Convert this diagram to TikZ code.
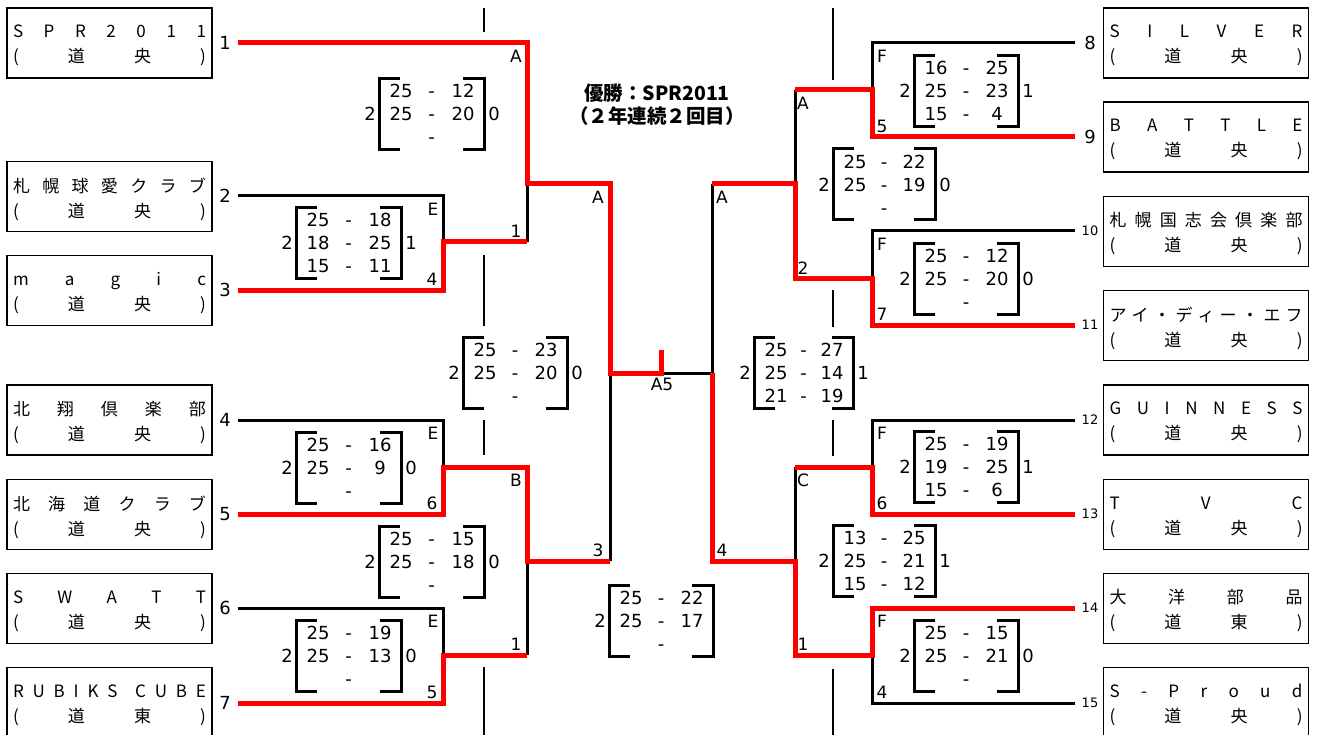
\documentclass[tikz,border=0pt]{standalone}
\usepackage{fontspec}
\setmainfont{DejaVu Sans}
\newfontfamily\jp{Noto Sans CJK JP}
\def\sfil{\hfill}
\newcommand\tname[2]{\vbox{\baselineskip=25pt\lineskiplimit=-100pt\kern5pt\hbox to 193pt{#1}\hbox to 193pt{#2}}}
\newcommand\scorebox[6]{%
 \begin{scope}[shift={#2}, name prefix=#1-]
  \def\shw{#3}
  \draw[brk] (-\shw+21,-35.5) -- (-\shw,-35.5) -- (-\shw,35.5) -- (-\shw+21,35.5);
  \draw[brk] (\shw-21,-35.5) -- (\shw,-35.5) -- (\shw,35.5) -- (\shw-21,35.5);
  \node[sc] (lc) at (-\shw-9,0) {#4};
  \node[sc] (rc) at (\shw+10,0) {#5};
  #6
 \end{scope}}
\newcommand\srow[4]{%
  \node[sc] (#1a) at (-\shw+22,#2) {#3};
  \node[sc] (#1d) at (0,#2) {-};
  \node[sc] (#1b) at (\shw-21,#2) {#4};}
\tikzset{
 team/.style={draw, line width=1.3pt, minimum width=205pt, minimum height=70pt, inner sep=0pt, font=\jp\fontsize{17}{17}\selectfont},
 win/.style={draw=red, line width=5pt, line join=miter},
 lose/.style={draw=black, line width=3pt},
 brk/.style={draw=black, line width=3pt, line join=miter},
 sepl/.style={draw=black, line width=1.3pt},
 sc/.style={inner sep=0pt, text height=13.1pt, text depth=0pt, font=\fontsize{18}{20}\selectfont},
 tag/.style={inner sep=0pt, text height=12.4pt, text depth=0pt, font=\fontsize{17}{18}\selectfont},
 num/.style={inner sep=0pt, text height=13.1pt, text depth=0pt, font=\fontsize{18}{20}\selectfont},
 snum/.style={inner sep=0pt, text height=9.5pt, text depth=0pt, font=\fontsize{13}{14}\selectfont},
 title/.style={inner sep=0pt, font=\jp\bfseries\fontsize{19.5}{22}\selectfont},
}
\begin{document}
\begin{tikzpicture}[x=1pt,y=-1pt]
\useasboundingbox (0,0) rectangle (1319,735);
% ---------- team boxes ----------
\node[team] (t1) at (109.5,43) {\tname{S\sfil P\sfil R\sfil 2\sfil 0\sfil 1\sfil 1}{(\sfil 道\sfil 央\sfil )}};
\node[team] (t2) at (109.5,196.5) {\tname{札\sfil 幌\sfil 球\sfil 愛\sfil ク\sfil ラ\sfil ブ}{(\sfil 道\sfil 央\sfil )}};
\node[team] (t3) at (109.5,290.5) {\tname{m\sfil a\sfil g\sfil i\sfil c}{(\sfil 道\sfil 央\sfil )}};
\node[team] (t4) at (109.5,420) {\tname{北\sfil 翔\sfil 倶\sfil 楽\sfil 部}{(\sfil 道\sfil 央\sfil )}};
\node[team] (t5) at (109.5,514.5) {\tname{北\sfil 海\sfil 道\sfil ク\sfil ラ\sfil ブ}{(\sfil 道\sfil 央\sfil )}};
\node[team] (t6) at (109.5,608.5) {\tname{S\sfil W\sfil A\sfil T\sfil T}{(\sfil 道\sfil 央\sfil )}};
\node[team] (t7) at (109.5,702.5) {\tname{R\sfil U\sfil B\sfil I\sfil K\sfil S\sfil\sfil C\sfil U\sfil B\sfil E}{(\sfil 道\sfil 東\sfil )}};
\node[team] (t8) at (1206,43) {\tname{S\sfil I\sfil L\sfil V\sfil E\sfil R}{(\sfil 道\sfil 央\sfil )}};
\node[team] (t9) at (1206,137) {\tname{B\sfil A\sfil T\sfil T\sfil L\sfil E}{(\sfil 道\sfil 央\sfil )}};
\node[team] (t10) at (1206,231.5) {\tname{札\sfil 幌\sfil 国\sfil 志\sfil 会\sfil 倶\sfil 楽\sfil 部}{(\sfil 道\sfil 央\sfil )}};
\node[team] (t11) at (1206,325.5) {\tname{ア\sfil イ\sfil ・\sfil デ\sfil ィ\sfil ー\sfil ・\sfil エ\sfil フ}{(\sfil 道\sfil 央\sfil )}};
\node[team] (t12) at (1206,420) {\tname{G\sfil U\sfil I\sfil N\sfil N\sfil E\sfil S\sfil S}{(\sfil 道\sfil 央\sfil )}};
\node[team] (t13) at (1206,514.5) {\tname{T\sfil V\sfil C}{(\sfil 道\sfil 央\sfil )}};
\node[team] (t14) at (1206,608.5) {\tname{大\sfil 洋\sfil 部\sfil 品}{(\sfil 道\sfil 東\sfil )}};
\node[team] (t15) at (1206,702.5) {\tname{S\sfil -\sfil P\sfil r\sfil o\sfil u\sfil d}{(\sfil 道\sfil 央\sfil )}};
% ---------- team numbers ----------
\node[num] (n1) at (225,43) {1};
\node[num] (n2) at (225,196) {2};
\node[num] (n3) at (225,290) {3};
\node[num] (n4) at (225,420) {4};
\node[num] (n5) at (225,514) {5};
\node[num] (n6) at (225,608) {6};
\node[num] (n7) at (225,703) {7};
\node[num] (n8) at (1090,43) {8};
\node[num] (n9) at (1090,137) {9};
\node[snum] (n10) at (1090,231) {10};
\node[snum] (n11) at (1090,325) {11};
\node[snum] (n12) at (1090,420) {12};
\node[snum] (n13) at (1090,514) {13};
\node[snum] (n14) at (1090,608) {14};
\node[snum] (n15) at (1090,703) {15};
% ---------- coordinates ----------
\coordinate (s1) at (238,43);
\coordinate (s2) at (238,196);
\coordinate (s3) at (238,290);
\coordinate (s4) at (238,420);
\coordinate (s5) at (238,514);
\coordinate (s6) at (238,608);
\coordinate (s7) at (238,703);
\coordinate (s8) at (1075,43);
\coordinate (s9) at (1075,137);
\coordinate (s10) at (1075,231);
\coordinate (s11) at (1075,325);
\coordinate (s12) at (1075,420);
\coordinate (s13) at (1075,514);
\coordinate (s14) at (1075,608);
\coordinate (s15) at (1075,703);
\coordinate (E1) at (443,242);
\coordinate (E2) at (443,467);
\coordinate (E3) at (443,655);
\coordinate (LA) at (527,184);
\coordinate (LB) at (527,561);
\coordinate (LS) at (610,373);
\coordinate (C) at (661,373);
\coordinate (Ct) at (661,350);
\coordinate (RS) at (712,373);
\coordinate (RA) at (795,184);
\coordinate (RC) at (795,561);
\coordinate (F1) at (872,90);
\coordinate (F2) at (872,278);
\coordinate (F3) at (872,467);
\coordinate (F4) at (872,655);
% ---------- losing lines ----------
\draw[lose] (s2) -| (E1);
\draw[lose] (s4) -| (E2);
\draw[lose] (s6) -| (E3);
\draw[lose] (LA) -- (LA |- E1);
\draw[lose] (LB) -- (LB |- E3);
\draw[lose] (LS) -- (LS |- LB);
\draw[lose] (C) -- (RS) -- (RS |- RA);
\draw[lose] (s8) -| (F1);
\draw[lose] (s10) -| (F2);
\draw[lose] (s12) -| (F3);
\draw[lose] (s15) -| (F4);
\draw[lose] (RA) -- (RA |- F1);
\draw[lose] (RC) -- (RC |- F3);
% ---------- winning lines ----------
\draw[win] (s1) -| (LA) -- (LA -| LS) -- (LS) -- (C) -- (Ct);
\draw[win] (s3) -| (E1) -- (LA |- E1);
\draw[win] (s5) -| (E2) -- (LB |- E2) -- (LB) -- (LS |- LB);
\draw[win] (s7) -| (E3) -- (LB |- E3);
\draw[win] (s14) -| (F4) -- (RC |- F4) -- (RC) -- (RS |- RC) -- (RS);
\draw[win] (s13) -| (F3) -- (RC |- F3);
\draw[win] (s11) -| (F2) -- (RA |- F2) -- (RA) -- (RS |- RA);
\draw[win] (s9) -| (F1) -- (RA |- F1);
% ---------- separators ----------
\draw[sepl] (484,8) -- (484,32);
\draw[sepl] (484,255) -- (484,326);
\draw[sepl] (484,420) -- (484,455);
\draw[sepl] (484,667) -- (484,735);
\draw[sepl] (833,8) -- (833,80);
\draw[sepl] (833,290) -- (833,327);
\draw[sepl] (833,420) -- (833,456);
\draw[sepl] (833,669) -- (833,735);
% ---------- tags ----------
\node[tag] (ta1) at (516,56) {A};
\node[tag] (ta2) at (433,209) {E};
\node[tag] (ta3) at (516,231) {1};
\node[tag] (ta4) at (432,279) {4};
\node[tag] (ta5) at (598,197) {A};
\node[tag] (ta6) at (433,433) {E};
\node[tag] (ta7) at (432,503) {6};
\node[tag] (ta8) at (516,480) {B};
\node[tag] (ta9) at (598,550) {3};
\node[tag] (ta10) at (433,621) {E};
\node[tag] (ta11) at (516,644) {1};
\node[tag] (ta12) at (432,692) {5};
\node[tag] (ta13) at (662,384) {A5};
\node[tag] (tb1) at (722,197) {A};
\node[tag] (tb2) at (803,103) {A};
\node[tag] (tb3) at (882,56) {F};
\node[tag] (tb4) at (882,126) {5};
\node[tag] (tb5) at (882,244) {F};
\node[tag] (tb6) at (882,314) {7};
\node[tag] (tb7) at (803,268) {2};
\node[tag] (tb8) at (882,433) {F};
\node[tag] (tb9) at (882,503) {6};
\node[tag] (tb10) at (803,480) {C};
\node[tag] (tb11) at (882,621) {F};
\node[tag] (tb12) at (882,692) {4};
\node[tag] (tb13) at (803,644) {1};
\node[tag] (tb14) at (722,550) {4};
% ---------- scores ----------
\scorebox{sLA}{(431.5,114)}{52.5}{2}{0}{\srow{r1}{-23}{25}{12}\srow{r2}{0}{25}{20}\srow{r3}{23}{}{}}
\scorebox{sE1}{(348.5,243)}{52.5}{2}{1}{\srow{r1}{-23}{25}{18}\srow{r2}{0}{18}{25}\srow{r3}{23}{15}{11}}
\scorebox{sLS}{(515,372.5)}{52}{2}{0}{\srow{r1}{-23}{25}{23}\srow{r2}{0}{25}{20}\srow{r3}{23}{}{}}
\scorebox{sE2}{(348.5,467.5)}{52.5}{2}{0}{\srow{r1}{-23}{25}{16}\srow{r2}{0}{25}{9}\srow{r3}{23}{}{}}
\scorebox{sLB}{(431.5,561.5)}{52.5}{2}{0}{\srow{r1}{-23}{25}{15}\srow{r2}{0}{25}{18}\srow{r3}{23}{}{}}
\scorebox{sE3}{(348.5,655.5)}{52.5}{2}{0}{\srow{r1}{-23}{25}{19}\srow{r2}{0}{25}{13}\srow{r3}{23}{}{}}
\scorebox{sFin}{(661,620.5)}{52}{2}{}{\srow{r1}{-23}{25}{22}\srow{r2}{0}{25}{17}\srow{r3}{23}{}{}}
\scorebox{sRS}{(803.5,372.5)}{49.5}{2}{1}{\srow{r1}{-23}{25}{27}\srow{r2}{0}{25}{14}\srow{r3}{23}{21}{19}}
\scorebox{sF1}{(966,91)}{52}{2}{1}{\srow{r1}{-23}{16}{25}\srow{r2}{0}{25}{23}\srow{r3}{23}{15}{4}}
\scorebox{sRA}{(884,184.5)}{51}{2}{0}{\srow{r1}{-23}{25}{22}\srow{r2}{0}{25}{19}\srow{r3}{23}{}{}}
\scorebox{sF2}{(966,279)}{52}{2}{0}{\srow{r1}{-23}{25}{12}\srow{r2}{0}{25}{20}\srow{r3}{23}{}{}}
\scorebox{sF3}{(966,467)}{52}{2}{1}{\srow{r1}{-23}{25}{19}\srow{r2}{0}{19}{25}\srow{r3}{23}{15}{6}}
\scorebox{sRC}{(884,561)}{51}{2}{1}{\srow{r1}{-23}{13}{25}\srow{r2}{0}{25}{21}\srow{r3}{23}{15}{12}}
\scorebox{sF4}{(966,655.5)}{52}{2}{0}{\srow{r1}{-23}{25}{15}\srow{r2}{0}{25}{21}\srow{r3}{23}{}{}}
% ---------- title ----------
\node[title] (win1) at (657,93) {優勝：SPR2011};
\node[title] (win2) at (657,116) {（２年連続２回目）};
\end{tikzpicture}
\end{document}
